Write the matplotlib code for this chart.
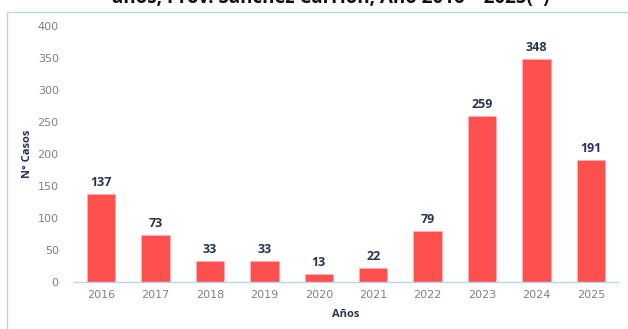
#!/usr/bin/env python
"""
Casos por año, Prov. Sánchez Carrión 2016 - 2025
"""
import matplotlib
matplotlib.use("Agg")
import matplotlib.pyplot as plt
from matplotlib.patches import Rectangle

years = ["2016", "2017", "2018", "2019", "2020", "2021", "2022", "2023", "2024", "2025"]
cases = [137, 73, 33, 33, 13, 22, 79, 259, 348, 191]
y_ticks = [0, 50, 100, 150, 200, 250, 300, 350, 400]

title = "años, Prov. Sánchez Carrión, Año 2016 – 2025(*)"
xlabel = "Años"
ylabel = "N° Casos"

BAR = "#ff5050"
NAVY = "#263650"
TICK = "#808080"
LINE = "#b8d4ee"


def main():
    fig = plt.figure(figsize=(6.28, 3.29), dpi=100)

    # frame around the chart area
    fig.patches.append(Rectangle((7 / 628, -0.1), 1.0, 1.1 - 12 / 329,
                                 transform=fig.transFigure, fill=False,
                                 edgecolor=LINE, linewidth=1.0))

    # title sits mostly above the top edge
    fig.text(0.527, 1 - 3 / 329, title, ha="center", va="baseline",
             fontsize=13.5, fontweight="bold", color="#111111",
             family="Open Sans")

    ax = fig.add_axes([74 / 628, 47 / 329, 544 / 628, 256 / 329])
    x = range(len(years))
    bars = ax.bar(x, cases, width=0.52, color=BAR, edgecolor="#ffb0b0",
                  linewidth=0.6)

    for b, v in zip(bars, cases):
        ax.text(b.get_x() + b.get_width() / 2, v + 8, str(v), ha="center",
                va="bottom", fontsize=9, fontweight="bold", color=NAVY,
                family="Open Sans")

    ax.set_xlim(-0.5, len(years) - 0.5)
    ax.set_ylim(0, 400)
    ax.set_yticks(y_ticks)
    ax.set_xticks(list(x))
    ax.set_xticklabels(years)

    for s in ["top", "right", "left"]:
        ax.spines[s].set_visible(False)
    ax.spines["bottom"].set_color(LINE)
    ax.spines["bottom"].set_linewidth(1.0)

    ax.tick_params(axis="both", length=0, labelsize=8, labelcolor=TICK)
    ax.tick_params(axis="y", pad=11)
    ax.tick_params(axis="x", pad=6)

    ax.set_xlabel(xlabel, fontsize=8, fontweight="bold", color=NAVY,
                  family="Open Sans", labelpad=6)
    ax.set_ylabel(ylabel, fontsize=8, fontweight="bold", color=NAVY,
                  family="Open Sans")
    ax.yaxis.set_label_coords(-0.075, 0.5)

    fig.savefig("out.png", dpi=100)


if __name__ == "__main__":
    main()
